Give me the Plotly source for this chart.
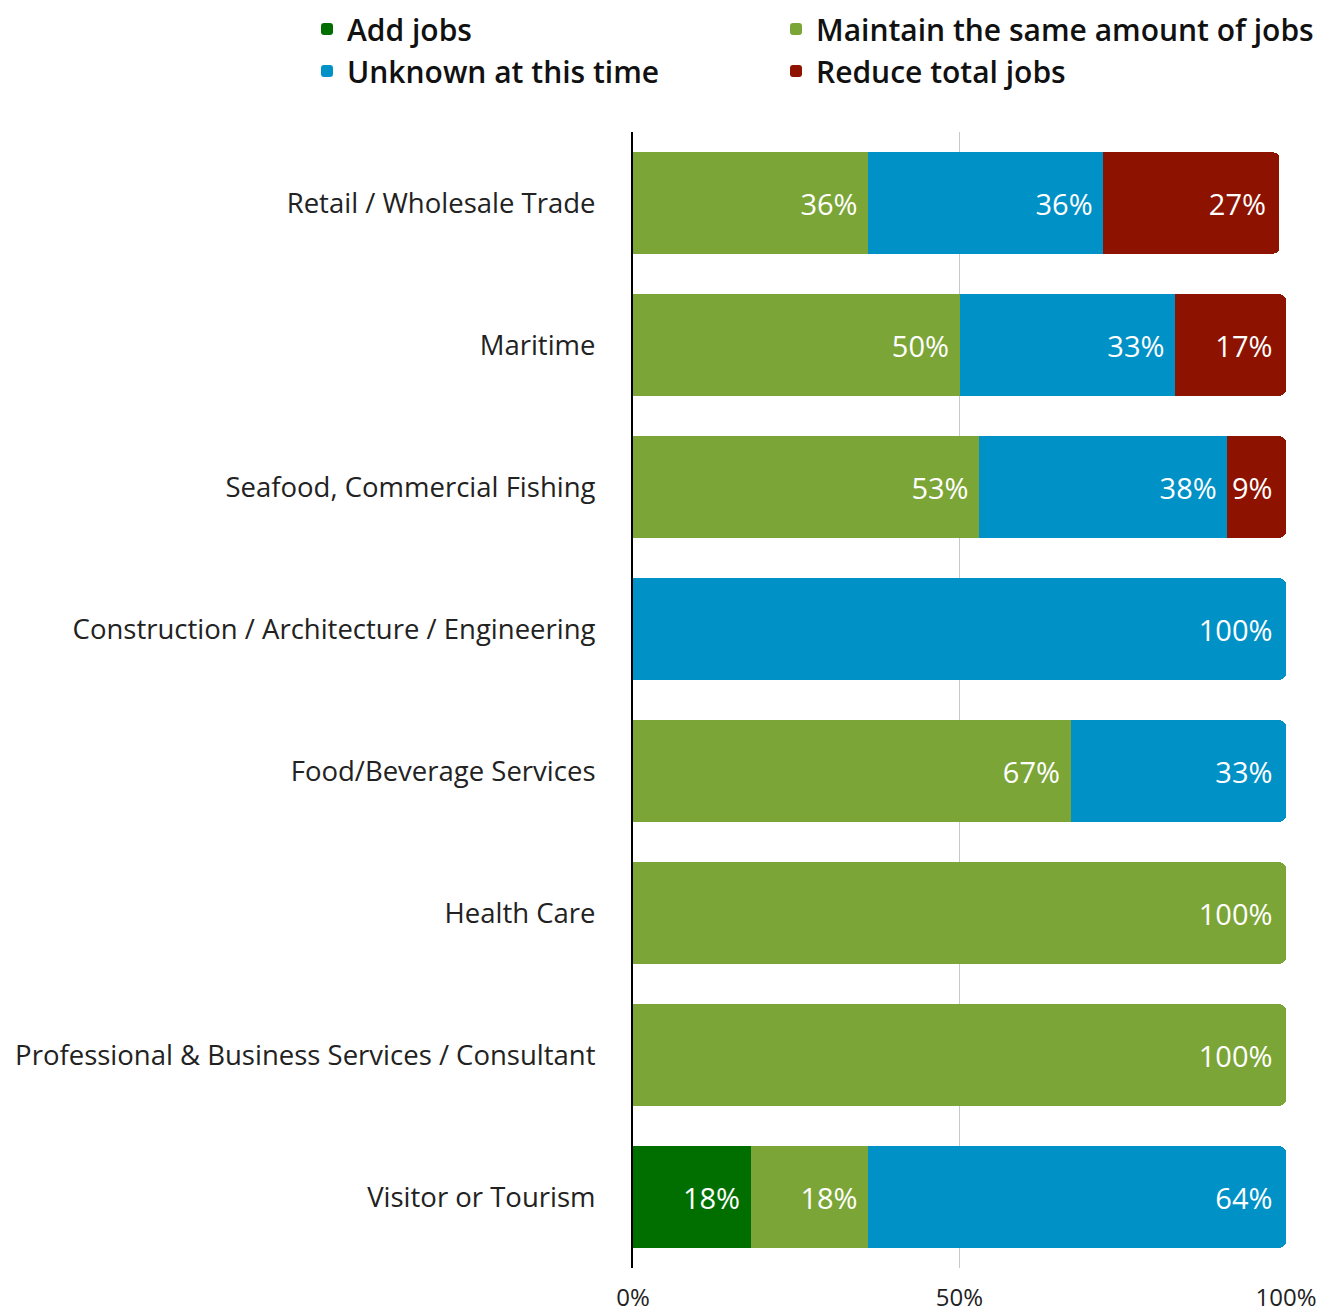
import plotly.graph_objects as go

categories = [
    "Retail / Wholesale Trade",
    "Maritime",
    "Seafood, Commercial Fishing",
    "Construction / Architecture / Engineering",
    "Food/Beverage Services",
    "Health Care",
    "Professional & Business Services / Consultant",
    "Visitor or Tourism",
]

add_jobs = [0, 0, 0, 0, 0, 0, 0, 18]
maintain = [36, 50, 53, 0, 67, 100, 100, 18]
unknown = [36, 33, 38, 100, 33, 0, 0, 64]
reduce_jobs = [27, 17, 9, 0, 0, 0, 0, 0]

series_names = ["Add jobs", "Maintain the same amount of jobs",
                "Unknown at this time", "Reduce total jobs"]
series_values = [add_jobs, maintain, unknown, reduce_jobs]
series_colors = ["#006F00", "#7BA536", "#0091C7", "#8D1300"]
series_legend = ["legend", "legend2", "legend", "legend2"]

x_ticks = [0, 50, 100]
x_ticklabels = ["0%", "50%", "100%"]

FONT = "Open Sans"

fig = go.Figure()
for name, vals, color, lg in zip(series_names, series_values, series_colors, series_legend):
    fig.add_trace(go.Bar(
        y=categories,
        x=vals,
        name=name,
        orientation="h",
        legend=lg,
        marker=dict(color=color, line=dict(width=0)),
        text=[f"{v}%\u00a0" if v > 0 else "" for v in vals],
        textposition="inside",
        insidetextanchor="end",
        textangle=0,
        textfont=dict(family=FONT, size=29, color="white"),
        constraintext="none",
        hoverinfo="skip",
    ))

legend_font = dict(family=FONT, size=30, color="#111111", weight=600)
LEG_Y = 1 + 129 / 1136

fig.update_layout(
    width=1339,
    height=1314,
    barmode="stack",
    bargap=0.287,
    barcornerradius=6,
    plot_bgcolor="white",
    paper_bgcolor="white",
    margin=dict(l=625, r=61, t=124, b=54, autoexpand=False),
    font=dict(family=FONT, color="#222222"),
    showlegend=True,
    legend=dict(
        orientation="v",
        xref="container", yref="paper",
        x=299 / 1339, xanchor="left",
        y=LEG_Y, yanchor="top",
        font=legend_font,
        traceorder="normal",
        itemclick=False,
    ),
    legend2=dict(
        orientation="v",
        xref="container", yref="paper",
        x=768 / 1339, xanchor="left",
        y=LEG_Y, yanchor="top",
        font=legend_font,
        traceorder="normal",
        itemclick=False,
    ),
    xaxis=dict(
        range=[0, 100],
        tickvals=x_ticks,
        ticktext=x_ticklabels,
        showgrid=True,
        gridcolor="#C8C8C8",
        gridwidth=1,
        zeroline=False,
        showline=False,
        ticks="",
        ticklabelstandoff=13,
        tickfont=dict(family=FONT, size=24, color="#222222"),
        fixedrange=True,
    ),
    yaxis=dict(
        categoryorder="array",
        categoryarray=categories,
        autorange="reversed",
        showline=True,
        linecolor="black",
        linewidth=2,
        ticks="",
        ticklabelstandoff=30,
        tickfont=dict(family=FONT, size=27.5, color="#222222"),
        showgrid=False,
        fixedrange=True,
    ),
)

fig.write_html("out.html")
